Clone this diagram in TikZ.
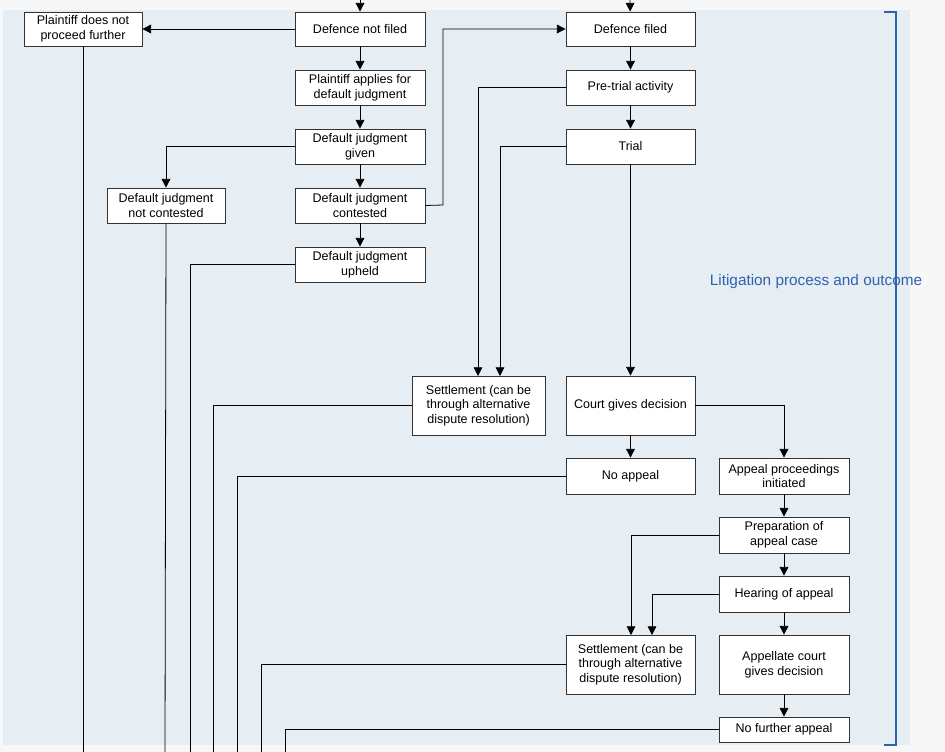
\documentclass[tikz,border=0pt]{standalone}
\usepackage{fontspec}
\setmainfont{Liberation Sans}
\usetikzlibrary{arrows.meta}
\definecolor{bgc}{HTML}{E6EDF3}
\definecolor{brc}{HTML}{2E63B0}
\begin{document}
\begin{tikzpicture}[x=0.75pt,y=-0.75pt,
  bx/.style={draw=black!80,fill=white,line width=0.6pt,font=\fontsize{9.4}{11}\selectfont,align=center,inner sep=0pt},
  ln/.style={draw=black,line width=0.6pt},
  ar/.style={ln,-{Triangle[length=6.5pt,width=6.5pt]}}]
\useasboundingbox (0,0) rectangle (945,752);
\fill[black!3] (0,0) rectangle (945,752);
\fill[bgc] (3,10) rectangle (910,745);
\newcommand{\bxx}[6]{\node[bx,minimum width={(#4-#2)*0.75pt},minimum height={(#5-#3)*0.75pt}] (#1) at ({(#2+#4)/2},{(#3+#5)/2}) {#6};}
\bxx{pdnp}{24}{12}{142}{46}{Plaintiff does not\\proceed further}
\bxx{dnf}{295}{12}{425}{46}{Defence not filed}
\bxx{pafdj}{295}{70}{425}{105}{Plaintiff applies for\\default judgment}
\bxx{djg}{295}{129}{425}{164}{Default judgment\\given}
\bxx{djnc}{107}{188}{225}{223}{Default judgment\\not contested}
\bxx{djc}{295}{188}{425}{223}{Default judgment\\contested}
\bxx{dju}{295}{247}{425}{282}{Default judgment\\upheld}
\bxx{df}{566}{12}{695}{46}{Defence filed}
\bxx{pta}{566}{70}{695}{105}{Pre-trial activity}
\bxx{trial}{566}{129}{695}{164}{Trial}
\bxx{set1}{412}{376}{545}{435}{Settlement (can be\\through alternative\\dispute resolution)}
\bxx{cgd}{566}{376}{695}{435}{Court gives decision}
\bxx{noap}{566}{458}{695}{494}{No appeal}
\bxx{api}{719}{458}{849}{494}{Appeal proceedings\\initiated}
\bxx{prep}{719}{517}{849}{553}{Preparation of\\appeal case}
\bxx{hear}{719}{576}{849}{612}{Hearing of appeal}
\bxx{set2}{566}{635}{695}{694}{Settlement (can be\\through alternative\\dispute resolution)}
\bxx{acgd}{719}{635}{849}{694}{Appellate court\\gives decision}
\bxx{nfa}{719}{717}{849}{742}{No further appeal}
\coordinate (t1) at (360,0); \coordinate (t2) at (630,0);
\draw[ar] (t1) -- (dnf);
\draw[ar] (t2) -- (df);
\draw[ar] (dnf.west) -- (pdnp.east);
\draw[ln] (pdnp.south) -- (83,752);
\draw[ar] (dnf) -- (pafdj);
\draw[ar] (pafdj) -- (djg);
\draw[ar] (djg) -- (djc);
\draw[ar] (djc) -- (dju);
\draw[ar] (djg.west) -| (djnc.north);
\draw[ln] (djnc.south) -- (165,752);
\draw[ar] (djc.east) -- (443,205) |- (df.west);
\draw[ln] (dju.west) -| (190,752);
\draw[ar] (df) -- (pta);
\draw[ar] (pta) -- (trial);
\draw[ar] (pta.west) -| (478,376);
\draw[ar] (trial.west) -| (500,376);
\draw[ar] (trial) -- (cgd);
\draw[ln] (set1.west) -| (213,752);
\draw[ar] (cgd) -- (noap);
\draw[ar] (cgd.east) -| (api.north);
\draw[ln] (noap.west) -| (237,752);
\draw[ar] (api) -- (prep);
\draw[ar] (prep) -- (hear);
\draw[ar] (hear) -- (acgd);
\draw[ar] (acgd) -- (nfa);
\draw[ar] (prep.west) -| (631,635);
\draw[ar] (hear.west) -| (652,635);
\draw[ln] (set2.west) -| (261,752);
\draw[ln] (nfa.west) -| (285,752);
\draw[brc,line width=0.9pt] (884,12) -- (896,12) -- (896,745) -- (884,745);
\node[text=brc,font=\fontsize{11.5}{13}\selectfont,inner sep=1pt] (lbl) at (816,282) {Litigation process and outcome};
\end{tikzpicture}
\end{document}
